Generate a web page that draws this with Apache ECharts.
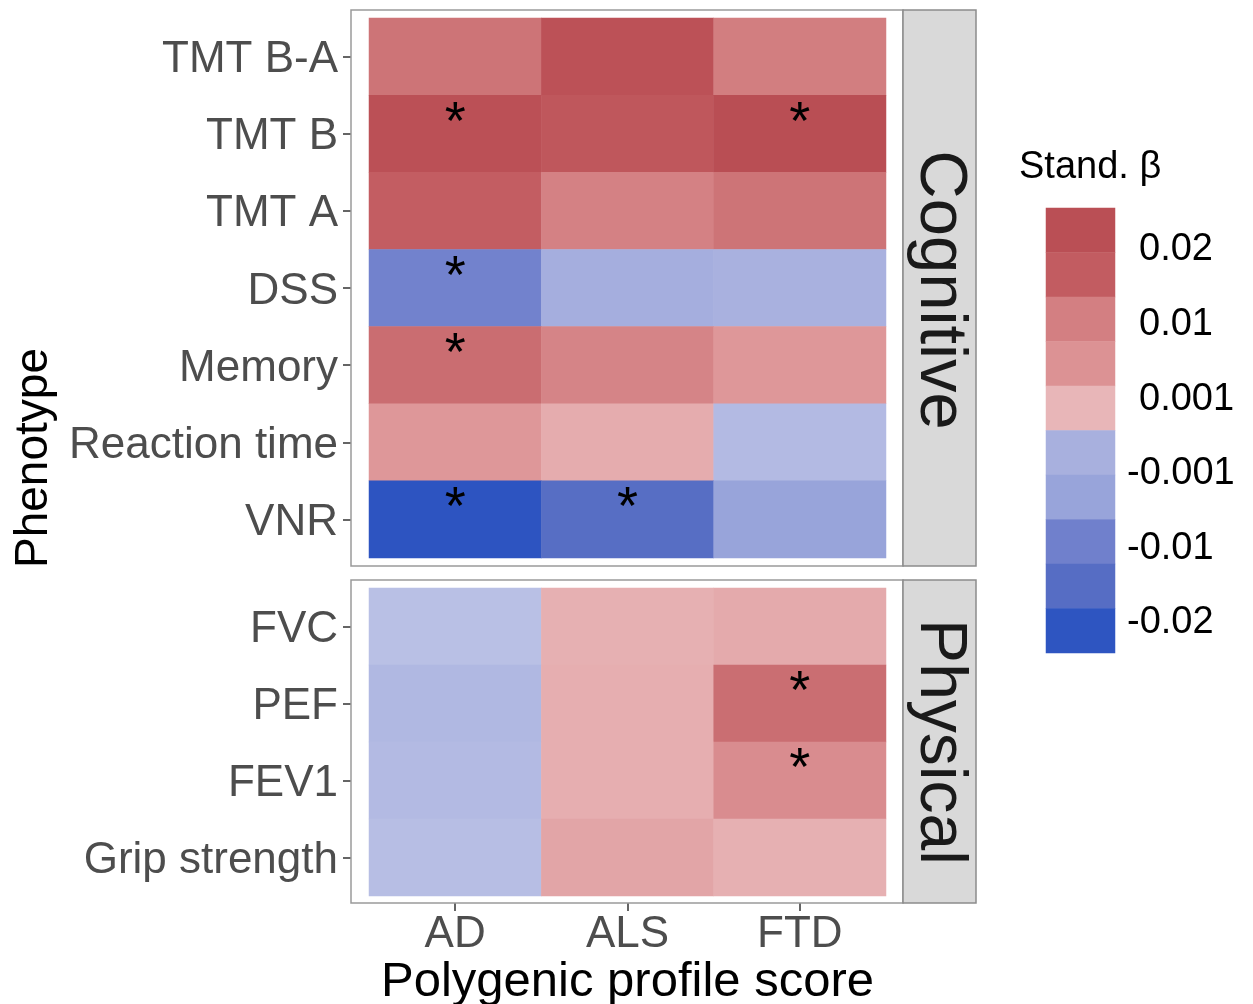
<!DOCTYPE html>
<html><head><meta charset="utf-8">
<script src="https://cdn.jsdelivr.net/npm/echarts@6/dist/echarts.min.js"></script>
<style>html,body{margin:0;padding:0;background:#fff}#c{width:1253px;height:1004px}</style>
</head><body><div id="c"></div>
<script>
// ---- data ----
const scores = ['AD', 'ALS', 'FTD'];
const cognitiveRows = ['TMT B-A', 'TMT B', 'TMT A', 'DSS', 'Memory', 'Reaction time', 'VNR'];
const physicalRows = ['FVC', 'PEF', 'FEV1', 'Grip strength'];
// standardised beta, columns AD, ALS, FTD
const cognitiveBeta = [
  [0.0135, 0.0215, 0.0115],
  [0.0220, 0.0195, 0.0230],
  [0.0177, 0.0108, 0.0135],
  [-0.0097, -0.0032, -0.0027],
  [0.0150, 0.0102, 0.0070],
  [0.0070, 0.0040, -0.0015],
  [-0.0230, -0.0148, -0.0050]
];
const physicalBeta = [
  [-0.0008, 0.0035, 0.0043],
  [-0.0018, 0.0037, 0.0148],
  [-0.0015, 0.0037, 0.0088],
  [-0.0010, 0.0050, 0.0035]
];
// significance flags (1 = *)
const cognitiveSig = [
  [0, 0, 0],
  [1, 0, 1],
  [0, 0, 0],
  [1, 0, 0],
  [1, 0, 0],
  [0, 0, 0],
  [1, 1, 0]
];
const physicalSig = [
  [0, 0, 0],
  [0, 0, 1],
  [0, 0, 1],
  [0, 0, 0]
];
// legend colour steps (top to bottom)
const legendSteps = [0.0228, 0.018, 0.0112, 0.0078, 0.0027, -0.0028, -0.005, -0.010, -0.015, -0.0225];
const legendLabels = ['0.02', '0.01', '0.001', '-0.001', '-0.01', '-0.02'];

// ---- build ----
const FONT = '"Liberation Sans", Arial, Helvetica, sans-serif';
function cells(beta, sig) {
  const out = [];
  beta.forEach((row, r) => row.forEach((v, c) => {
    const item = { value: [c, r, v] };
    if (sig[r][c]) item.label = { show: true };
    out.push(item);
  }));
  return out;
}
const legendData = legendSteps.map((v, i) => [0, i, v]);
const legendBins = legendSteps.map((v, i) => 'b' + i);

const rampColors = [
  '#2a52c0', '#2e55c1', '#3a5cc2', '#4763c3', '#566dc4', '#6378c8', '#7080cc', '#8491d2', '#98a4da', '#aab2df',
  '#c0c6e8',
  '#e9b7b9', '#e2a5a7', '#dd9496', '#d68588', '#cf797b', '#ca6d71', '#c35e63', '#be555a', '#ba4f55', '#b74b51'
];

const tileLabel = {
  show: false, formatter: '*', color: '#000', fontSize: 54, fontFamily: FONT, offset: [0, -10]
};

const yAxisCommon = {
  type: 'category', inverse: true, offset: 18,
  axisLine: { show: false },
  axisTick: { show: true, alignWithLabel: true, length: 8, interval: 0, lineStyle: { color: '#333', width: 1.5 } },
  axisLabel: {
    interval: 0, margin: 13,
    formatter: v => '{t|' + v + '}',
    rich: { t: { fontSize: 44, color: '#4d4d4d', fontFamily: FONT, padding: [7, 0, 0, 0] } }
  },
  splitLine: { show: false }
};

const graphic = [
  { type: 'rect', shape: { x: 351, y: 10, width: 552, height: 556 }, style: { fill: 'none', stroke: '#9a9a9a', lineWidth: 1.5 }, z: 10 },
  { type: 'rect', shape: { x: 351, y: 580, width: 552, height: 323 }, style: { fill: 'none', stroke: '#9a9a9a', lineWidth: 1.5 }, z: 10 },
  { type: 'rect', shape: { x: 903, y: 10, width: 73, height: 556 }, style: { fill: '#d9d9d9', stroke: '#8c8c8c', lineWidth: 1.5 }, z: 10 },
  { type: 'rect', shape: { x: 903, y: 580, width: 73, height: 323 }, style: { fill: '#d9d9d9', stroke: '#8c8c8c', lineWidth: 1.5 }, z: 10 },
  { type: 'text', x: 939, y: 290, rotation: -Math.PI / 2, z: 11,
    style: { text: 'Cognitive', fontSize: 67, fontFamily: FONT, fill: '#1a1a1a', align: 'center', verticalAlign: 'middle' } },
  { type: 'text', x: 939, y: 742, rotation: -Math.PI / 2, z: 11,
    style: { text: 'Physical', fontSize: 66, fontFamily: FONT, fill: '#1a1a1a', align: 'center', verticalAlign: 'middle' } },
  { type: 'text', x: 34, y: 458, rotation: Math.PI / 2, z: 11,
    style: { text: 'Phenotype', fontSize: 46, fontFamily: FONT, fill: '#000', align: 'center', verticalAlign: 'middle' } },
  { type: 'text', x: 1019, y: 168, z: 11,
    style: { text: 'Stand. β', fontSize: 38, fontFamily: FONT, fill: '#000', align: 'left', verticalAlign: 'middle' } }
];
legendLabels.forEach((t, i) => {
  graphic.push({ type: 'text', x: t.charAt(0) === '-' ? 1127 : 1139, y: 250 + i * 74.6, z: 11,
    style: { text: t, fontSize: 38, fontFamily: FONT, fill: '#000', align: 'left', verticalAlign: 'middle' } });
});

const option = {
  backgroundColor: '#fff',
  animation: false,
  grid: [
    { left: 369, top: 18, width: 517, height: 540, outerBoundsMode: 'none', containLabel: false },
    { left: 369, top: 588, width: 517, height: 308, outerBoundsMode: 'none', containLabel: false },
    { left: 1046, top: 208, width: 69, height: 445, outerBoundsMode: 'none', containLabel: false }
  ],
  xAxis: [
    { gridIndex: 0, type: 'category', data: scores, axisLine: { show: false }, axisTick: { show: false }, axisLabel: { show: false }, splitLine: { show: false } },
    { gridIndex: 1, type: 'category', data: scores, offset: 7,
      axisLine: { show: false },
      axisTick: { show: true, alignWithLabel: true, length: 8, interval: 0, lineStyle: { color: '#333', width: 1.5 } },
      axisLabel: { interval: 0, margin: 10, fontSize: 44, color: '#4d4d4d', fontFamily: FONT },
      name: 'Polygenic profile score', nameLocation: 'middle', nameGap: 51,
      nameTextStyle: { fontSize: 49, color: '#000', fontFamily: FONT },
      splitLine: { show: false } },
    { gridIndex: 2, type: 'category', data: [''], show: false }
  ],
  yAxis: [
    Object.assign({}, yAxisCommon, { gridIndex: 0, data: cognitiveRows }),
    Object.assign({}, yAxisCommon, { gridIndex: 1, data: physicalRows }),
    { gridIndex: 2, type: 'category', data: legendBins, inverse: true, show: false }
  ],
  visualMap: {
    type: 'continuous', show: false, min: -0.025, max: 0.025, dimension: 2,
    seriesIndex: [0, 1, 2], inRange: { color: rampColors }
  },
  series: [
    { type: 'heatmap', xAxisIndex: 0, yAxisIndex: 0, data: cells(cognitiveBeta, cognitiveSig),
      label: tileLabel, itemStyle: { borderWidth: 0 }, emphasis: { disabled: true } },
    { type: 'heatmap', xAxisIndex: 1, yAxisIndex: 1, data: cells(physicalBeta, physicalSig),
      label: tileLabel, itemStyle: { borderWidth: 0 }, emphasis: { disabled: true } },
    { type: 'heatmap', xAxisIndex: 2, yAxisIndex: 2, data: legendData,
      itemStyle: { borderWidth: 0 }, emphasis: { disabled: true } }
  ],
  graphic: graphic
};
const chart = echarts.init(document.getElementById('c'), null, { renderer: 'canvas' });
chart.setOption(option);
</script></body></html>
